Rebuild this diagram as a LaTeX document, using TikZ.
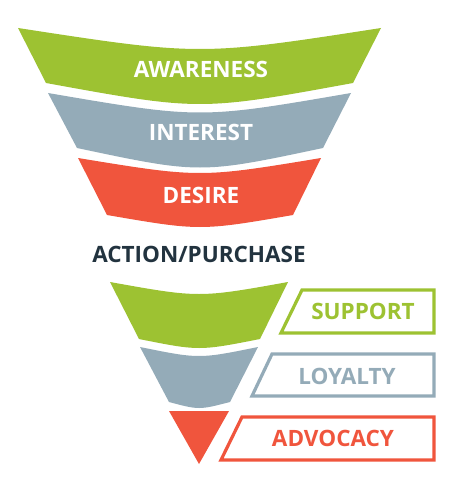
\documentclass[tikz,border=0pt]{standalone}
\usepackage{fontspec}
\setmainfont{Open Sans}
\definecolor{fgreen}{HTML}{9DC232}
\definecolor{fgray}{HTML}{94ABB8}
\definecolor{fred}{HTML}{F0553D}
\definecolor{fnavy}{HTML}{22333F}
\begin{document}
\begin{tikzpicture}[x=1pt,y=-1pt,
  lbl/.style={font=\fontsize{22.5}{26}\selectfont\bfseries, text=white, inner sep=0pt},
  boxlbl/.style={font=\fontsize{22.5}{26}\selectfont\bfseries, inner sep=0pt},
  boxline/.style={line width=3.2pt, line join=miter, fill=white}]
\useasboundingbox (0,0) rectangle (455,492);
% top funnel
\fill[fgreen] (18,28) .. controls (200,56) .. (381,28) -- (353,83) .. controls (200,111) .. (46,83) -- cycle;
\fill[fgray] (48,93) .. controls (200,119) .. (351,93) -- (323,148) .. controls (200,174) .. (77,148) -- cycle;
\fill[fred] (78,158) .. controls (200,178) .. (321,158) -- (293,215) .. controls (200,231) .. (107,215) -- cycle;
\node[lbl] (aw) at (201,69) {AWARENESS};
\node[lbl] (in) at (201,132) {INTEREST};
\node[lbl] (de) at (201,195) {DESIRE};
\node[font=\fontsize{22.5}{26}\selectfont\bfseries, text=fnavy, inner sep=0pt] (ap) at (199,254) {ACTION/PURCHASE};
% lower funnel
\fill[fgreen] (110,282) .. controls (199,298) .. (288,282) -- (260,339) .. controls (199,351) .. (139,339) -- cycle;
\fill[fgray] (140,347) .. controls (199,359) .. (258,347) -- (230,402) .. controls (199,410) .. (169,402) -- cycle;
\fill[fred] (169,411) -- (229,411) -- (199,464) -- cycle;
% boxes
\draw[boxline, draw=fgreen] (302,290) -- (434,290) -- (434,333) -- (281,333) -- cycle;
\draw[boxline, draw=fgray] (272,354) -- (434,354) -- (434,396) -- (252,396) -- cycle;
\draw[boxline, draw=fred] (242,417) -- (434,417) -- (434,460) -- (221,460) -- cycle;
\node[boxlbl, text=fgreen] (su) at (363,311) {SUPPORT};
\node[boxlbl, text=fgray] (lo) at (347,376) {LOYALTY};
\node[boxlbl, text=fred] (ad) at (333,438) {ADVOCACY};
\end{tikzpicture}
\end{document}
